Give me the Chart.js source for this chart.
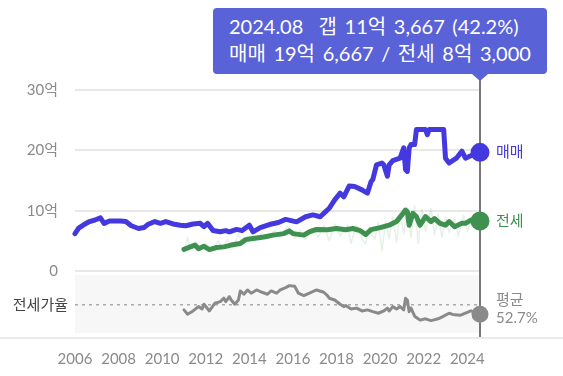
<!DOCTYPE html>
<html lang="ko">
<head>
<meta charset="utf-8">
<title>매매 / 전세 시세</title>
<script src="https://cdn.jsdelivr.net/npm/chart.js@4.4.1/dist/chart.umd.min.js"></script>
<style>
  html, body { margin: 0; padding: 0; background: #fff; }
  #wrap { position: relative; width: 563px; height: 376px; }
  #tip {
    position: absolute; top: 8px; display: none;
    background: #5a62d7; color: #fff; border-radius: 4px;
    padding: 5px 16px 7px 16px;
    font: 20px Lato, 'Noto Sans CJK KR', sans-serif; line-height: 27px;
    word-spacing: 2.5px; white-space: pre;
  }
  #tip .caret {
    position: absolute; bottom: -7px; width: 0; height: 0;
    border-left: 8px solid transparent; border-right: 8px solid transparent;
    border-top: 7px solid #5a62d7;
  }
</style>
</head>
<body>
<div id="wrap">
  <canvas id="priceChart"></canvas>
  <div id="tip"><div id="tipText"></div><div class="caret" id="tipCaret"></div></div>
</div>
<script>
// 매매 시세 (억)
const saleMonths = ['2006.01','2006.03','2006.06','2006.09','2006.12','2007.03','2007.05','2007.08','2008.02','2008.05',
  '2008.08','2008.12','2009.03','2009.05','2009.09','2009.12','2010.03','2010.07','2010.11','2011.02',
  '2011.06','2011.10','2011.12','2012.02','2012.05','2012.09','2012.12','2013.02','2013.06','2013.09',
  '2014.01','2014.03','2014.07','2014.12','2015.05','2015.09','2016.03','2016.08','2016.12','2017.04',
  '2017.07','2017.09','2017.12','2018.03','2018.05','2018.08','2018.11','2019.03','2019.06','2019.08',
  '2019.09','2019.11','2020.02','2020.03','2020.05','2020.06','2020.08','2020.12','2021.02','2021.03',
  '2021.04','2021.05','2021.06','2021.08','2021.09','2022.02','2022.03','2022.04','2022.12','2023.01',
  '2023.03','2023.07','2023.10','2023.12','2024.05','2024.08'];
const saleValues = [6.2, 7.1, 7.7, 8.2, 8.45, 8.8, 7.9, 8.3, 8.3, 8.2,
  7.5, 7.05, 7.2, 7.7, 8.2, 7.9, 8.2, 7.8, 7.6, 7.5,
  7.8, 7.9, 7.35, 7.9, 6.7, 6.5, 6.7, 6.5, 6.9, 6.7,
  7.6, 6.5, 7.2, 7.7, 8.05, 8.55, 8.15, 9.0, 9.3, 9.0,
  9.85, 10.4, 11.8, 12.9, 12.3, 14.1, 14.0, 13.45, 12.9, 14.8,
  15.2, 17.6, 17.9, 17.6, 15.7, 17.6, 18.3, 18.7, 20.4, 16.8,
  16.5, 20.4, 20.95, 20.95, 23.45, 23.45, 22.6, 23.45, 23.45, 18.7,
  17.9, 18.7, 19.85, 18.7, 19.4, 19.6667];

// 전세 시세 (억)
const jeonseMonths = ['2011.01','2011.07','2011.09','2011.12','2012.03','2012.07','2012.11','2013.03','2013.08','2013.11',
  '2014.03','2014.09','2015.02','2015.08','2015.11','2016.01','2016.07','2016.10','2017.02','2017.08',
  '2018.01','2018.06','2018.10','2019.02','2019.05','2019.08','2020.01','2020.06','2020.10','2021.01',
  '2021.03','2021.04','2021.05','2021.07','2021.09','2021.11','2022.02','2022.05','2022.07','2022.10',
  '2023.01','2023.03','2023.06','2023.10','2023.12','2024.03','2024.08'];
const jeonseValues = [3.6, 4.3, 3.7, 4.1, 3.55, 3.9, 4.0, 4.3, 4.55, 5.2,
  5.4, 5.65, 5.95, 6.2, 6.65, 6.2, 5.95, 6.5, 6.9, 6.85,
  7.05, 6.85, 7.05, 6.7, 6.05, 6.85, 7.2, 7.6, 8.2, 9.3,
  10.1, 9.85, 7.6, 9.55, 9.0, 7.6, 9.0, 8.2, 8.7, 7.9,
  7.6, 8.2, 7.35, 7.9, 7.9, 8.45, 8.3];

// 전세 실거래 (연한 선)
const tradeMonths = ['2011.01','2011.03','2011.04','2011.08','2011.10','2012.01','2012.04','2012.08','2012.10','2013.01',
  '2013.04','2013.07','2013.09','2013.12','2014.04','2014.08','2014.11','2015.03','2015.06','2015.10',
  '2016.02','2016.05','2016.08','2016.12','2017.03','2017.06','2017.09','2017.12','2018.03','2018.07',
  '2018.09','2018.12','2019.03','2019.05','2019.07','2019.10','2019.12','2020.02','2020.04','2020.06',
  '2020.08','2020.10','2020.12','2021.02','2021.04','2021.06','2021.08','2021.10','2021.12','2022.02',
  '2022.05','2022.07','2022.09','2022.11','2023.01','2023.03','2023.06','2023.08','2023.11','2024.01',
  '2024.04','2024.08'];
const tradeValues = [3.4, 5.6, 3.8, 4.8, 3.6, 4.6, 3.4, 5.0, 3.8, 5.2,
  4.0, 6.2, 4.6, 5.8, 4.9, 6.4, 5.2, 6.8, 5.6, 7.4,
  5.4, 6.8, 5.2, 7.2, 5.6, 7.6, 5.0, 7.8, 5.8, 7.6,
  4.6, 7.6, 5.4, 4.4, 7.4, 5.2, 8.0, 3.3, 8.2, 5.4,
  9.0, 4.8, 9.6, 6.2, 10.6, 5.6, 10.8, 4.6, 10.2, 6.6,
  10.4, 6.0, 9.4, 5.6, 9.0, 6.4, 8.8, 5.8, 9.2, 6.6,
  9.0, 8.3];

// 전세가율 (%)
const ratioMonths = ['2011.01','2011.03','2011.06','2011.09','2011.11','2011.12','2012.03','2012.06','2012.09','2012.11',
  '2012.12','2013.02','2013.03','2013.05','2013.07','2013.08','2013.10','2013.12','2014.02','2014.05',
  '2014.08','2014.11','2015.01','2015.04','2015.06','2015.09','2015.11','2016.02','2016.04','2016.07',
  '2016.11','2017.02','2017.06','2017.08','2017.09','2017.12','2018.03','2018.05','2018.06','2018.09',
  '2018.12','2019.03','2019.06','2019.09','2019.12','2020.03','2020.05','2020.06','2020.08','2020.10',
  '2020.12','2021.02','2021.03','2021.04','2021.05','2021.06','2021.08','2021.11','2022.02','2022.05',
  '2022.09','2022.12','2023.03','2023.05','2023.09','2023.12','2024.03','2024.08'];
const ratioValues = [47.1, 42.2, 45.9, 50.8, 48.2, 53.5, 45.9, 54.6, 56.4, 60.3,
  56.4, 62.1, 58.3, 53.5, 58.3, 68.5, 64.8, 69.6, 65.9, 69.6,
  67.0, 64.8, 68.5, 65.9, 69.6, 72.2, 74.5, 73.7, 65.9, 63.2,
  67.0, 69.6, 67.0, 63.2, 60.3, 58.3, 53.5, 50.8, 52.0, 48.2,
  49.1, 45.9, 47.1, 45.1, 43.3, 45.9, 49.1, 45.9, 50.8, 48.2,
  50.8, 47.1, 60.3, 58.3, 45.1, 49.1, 40.0, 35.5, 37.0, 35.0,
  37.0, 40.0, 43.3, 42.0, 41.0, 43.5, 46.0, 42.2];
const ratioAvg = 52.7;

const yearTicks = [2006, 2008, 2010, 2012, 2014, 2016, 2018, 2020, 2022, 2024];
const priceTicks = [0, 10, 20, 30];

const FONT = "Lato, 'Noto Sans CJK KR', sans-serif";
const BLUE = '#4439de';
const GREEN = '#3f9150';
const GRAY = '#8a8a8a';

// '2024.08' -> 2024.583
function toYear(m) {
  var p = m.split('.');
  return Number(p[0]) + (Number(p[1]) - 1) / 12;
}
function points(months, values) {
  return months.map(function (m, i) { return { x: toYear(m), y: values[i] }; });
}
// 19.6667 -> '19억 6,667'
function eok(v) {
  var e = Math.floor(v + 1e-9);
  var man = Math.round((v - e) * 10000);
  return e + '억 ' + man.toLocaleString('en-US');
}
function lastDot(ctx) {
  return ctx.dataIndex === ctx.dataset.data.length - 1 ? 7 : 0;
}

// 툴팁 (html)
function drawTip(context) {
  var t = context.tooltip;
  var tip = document.getElementById('tip');
  if (!t.getActiveElements().length) { tip.style.display = 'none'; return; }
  var i = saleValues.length - 1, j = jeonseValues.length - 1;
  var sale = saleValues[i], jeonse = jeonseValues[j];
  var pct = (jeonse / sale * 100).toFixed(1);
  document.getElementById('tipText').textContent =
    saleMonths[i] + '  갭 ' + eok(sale - jeonse) + ' (' + pct + '%)\n' +
    '매매 ' + eok(sale) + ' / 전세 ' + eok(jeonse);
  tip.style.display = 'block';
  var w = tip.offsetWidth;
  var left = Math.min(t.caretX - w / 2, context.chart.width - w - 16);
  tip.style.left = left + 'px';
  document.getElementById('tipCaret').style.left = (t.caretX - left - 8) + 'px';
}

const panelPlugin = {
  id: 'panels',
  beforeDraw: function (chart) {
    var ctx = chart.ctx, a = chart.chartArea, y2 = chart.scales.y2;
    ctx.save();
    ctx.fillStyle = '#f7f7f7';
    ctx.fillRect(a.left, y2.top, a.right - a.left, y2.bottom - y2.top);
    ctx.fillStyle = '#e9e9e9';
    ctx.fillRect(0, a.bottom + 4, chart.width, 2);
    ctx.restore();
  },
  beforeDatasetsDraw: function (chart) {
    var ctx = chart.ctx, meta = chart.getDatasetMeta(0);
    var p = meta.data[meta.data.length - 1];
    ctx.save();
    ctx.strokeStyle = '#777';
    ctx.lineWidth = 2;
    ctx.beginPath();
    ctx.moveTo(p.x, 76);
    ctx.lineTo(p.x, chart.chartArea.bottom + 4);
    ctx.stroke();
    ctx.restore();
  },
  afterDatasetsDraw: function (chart) {
    var ctx = chart.ctx;
    function end(k) { var d = chart.getDatasetMeta(k).data; return d[d.length - 1]; }
    var s = end(0), j = end(1);
    var avgY = chart.scales.y2.getPixelForValue(ratioAvg);
    ctx.save();
    ctx.font = '15px ' + FONT;
    ctx.textBaseline = 'middle';
    ctx.textAlign = 'left';
    ctx.fillStyle = BLUE;
    ctx.fillText('매매', s.x + 16, s.y);
    ctx.fillStyle = GREEN;
    ctx.fillText('전세', j.x + 16, j.y);
    ctx.fillStyle = GRAY;
    ctx.fillText('평균', s.x + 16, avgY - 5);
    ctx.fillText(ratioAvg + '%', s.x + 16, avgY + 13);
    ctx.restore();
  }
};

var chart = new Chart(document.getElementById('priceChart'), {
  type: 'line',
  data: {
    datasets: [{
      label: '매매',
      data: points(saleMonths, saleValues),
      yAxisID: 'y',
      borderColor: BLUE,
      backgroundColor: BLUE,
      borderWidth: 5
    }, {
      label: '전세',
      data: points(jeonseMonths, jeonseValues),
      yAxisID: 'y',
      borderColor: GREEN,
      backgroundColor: GREEN,
      borderWidth: 5
    }, {
      label: '전세 실거래',
      data: points(tradeMonths, tradeValues),
      yAxisID: 'y',
      borderColor: 'rgba(80, 160, 95, 0.15)',
      borderWidth: 1.5,
      pointRadius: 0
    }, {
      label: '전세가율',
      data: points(ratioMonths, ratioValues),
      yAxisID: 'y2',
      borderColor: GRAY,
      backgroundColor: GRAY,
      borderWidth: 3
    }]
  },
  options: {
    responsive: true,
    maintainAspectRatio: false,
    animation: false,
    events: [],
    layout: { padding: { top: 90, right: 83, left: 0, bottom: 0 } },
    elements: {
      line: { tension: 0, borderJoinStyle: 'round', borderCapStyle: 'round' },
      point: { radius: lastDot, borderWidth: 0, hoverRadius: 7 }
    },
    datasets: { line: { clip: false } },
    plugins: {
      legend: { display: false },
      tooltip: { enabled: false, position: 'average', external: drawTip }
    },
    scales: {
      x: {
        type: 'linear',
        min: toYear(saleMonths[0]),
        max: toYear(saleMonths[saleMonths.length - 1]),
        afterBuildTicks: function (s) { s.ticks = yearTicks.map(function (v) { return { value: v }; }); },
        afterFit: function (s) { s.height = 43; },
        grid: { display: false },
        border: { display: false },
        ticks: { color: GRAY, font: { family: FONT, size: 15 }, padding: 9, maxRotation: 0,
          callback: function (v) { return String(v); } }
      },
      // 아래 패널 (전세가율) - 스택에서 먼저 선언해야 아래에 놓임
      y2: {
        type: 'linear',
        position: 'left',
        stack: 'main',
        stackWeight: 58,
        min: 21,
        max: 86.5,
        afterBuildTicks: function (s) { s.ticks = [{ value: ratioAvg }]; },
        afterFit: function (s) { s.width = 75; },
        grid: { color: '#aaa', lineWidth: 1.5, drawTicks: false },
        border: { display: false, dash: [3, 4] },
        ticks: { color: '#444', font: { family: FONT, size: 15 }, padding: 7,
          callback: function () { return '전세가율'; } }
      },
      y: {
        type: 'linear',
        position: 'left',
        stack: 'main',
        stackWeight: 185,
        min: -0.66,
        max: 30,
        afterBuildTicks: function (s) { s.ticks = priceTicks.map(function (v) { return { value: v }; }); },
        afterFit: function (s) { s.width = 75; },
        grid: { color: '#e8e8e8', lineWidth: 2, drawTicks: false },
        border: { display: false },
        ticks: { color: GRAY, font: { family: FONT, size: 15 }, padding: 17,
          callback: function (v) { return v === 0 ? '0' : v + '억'; } }
      }
    }
  },
  plugins: [panelPlugin]
});

// 마지막 시점 툴팁 표시
chart.tooltip.setActiveElements([{ datasetIndex: 0, index: saleValues.length - 1 }], { x: 0, y: 0 });
chart.draw();
</script>
</body>
</html>
